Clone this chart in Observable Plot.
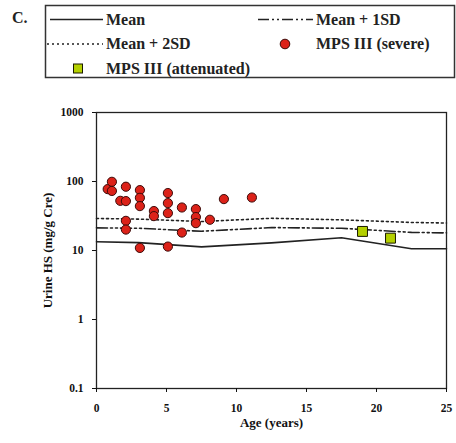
<!DOCTYPE html>
<html>
<head>
<meta charset="utf-8">
<script src="https://cdn.jsdelivr.net/npm/d3@7"></script>
<script src="https://cdn.jsdelivr.net/npm/@observablehq/plot@0.6"></script>
<style>
  html, body { margin: 0; padding: 0; background: #fff; }
  #page { position: relative; width: 456px; height: 443px; overflow: hidden; font-family: "Liberation Serif", "DejaVu Serif", serif; }
  #legend { position: absolute; left: 0; top: 0; }
  #chart { position: absolute; left: 0; top: 90px; }
</style>
</head>
<body>
<div id="page">
  <div id="chart"></div>
  <svg id="legend" width="456" height="90"></svg>
</div>
<script>
// ---- Data ----
const severeAge = [0.8, 1.1, 1.1, 2.1, 1.7, 2.1, 2.1, 2.1, 3.1, 3.1, 3.1, 3.1, 4.1, 4.1, 5.1, 5.1, 5.1, 5.1, 6.1, 6.1, 7.1, 7.1, 7.1, 8.1, 9.1, 11.1];
const severeHS  = [77.6, 99, 73, 84, 52.5, 52, 26.9, 20.1, 75, 58, 44, 10.9, 37.3, 31.5, 68, 48.6, 34.8, 11.4, 42, 18.2, 39.8, 30.5, 24.9, 27.9, 55.6, 58.6];
const attenAge  = [19, 21];
const attenHS   = [18.9, 15.1];
const refAge    = [0, 3, 7.5, 12.5, 17.5, 22.5, 25];
const meanHS    = [13.4, 13.0, 11.3, 12.9, 15.3, 10.6, 10.6];
const plus1SD   = [21.3, 21.0, 19.0, 21.5, 21.0, 18.3, 18.0];
const plus2SD   = [29.1, 28.5, 26.3, 29.3, 27.8, 25.5, 25.0];
const xTicks    = [0, 5, 10, 15, 20, 25];
const yTicks    = [0.1, 1, 10, 100, 1000];
const yTickLabels = ["0.1", "1", "10", "100", "1000"];
const legendLabels = ["Mean", "Mean + 1SD", "Mean + 2SD", "MPS III (severe)", "MPS III (attenuated)"];
const panelLabel = "C.";
const xTitle = "Age (years)";
const yTitle = "Urine HS (mg/g Cre)";

// ---- Styles ----
const redFill = "#dc2219", redStroke = "#3b0a08";
const greenFill = "#b4d000", greenStroke = "#1a1a00";
const dashDot = "11,3,2,3,2,3";
const dotted = "2,3";

const refRows = refAge.map((a, i) => ({age: a, mean: meanHS[i], sd1: plus1SD[i], sd2: plus2SD[i]}));
const severe = severeAge.map((a, i) => ({age: a, hs: severeHS[i]}));
const atten = attenAge.map((a, i) => ({age: a, hs: attenHS[i]}));

const chart = Plot.plot({
  width: 456,
  height: 353,
  marginTop: 22,
  marginBottom: 55,
  marginLeft: 96,
  marginRight: 10,
  style: {fontFamily: "'Liberation Serif', serif", fontWeight: "bold", fontSize: "11.5px", color: "#111", background: "white"},
  x: {domain: [0, 25]},
  y: {type: "log", domain: [0.1, 1000]},
  marks: [
    Plot.frame({stroke: "#222", strokeWidth: 1.3}),
    Plot.axisX({ticks: xTicks, tickSize: 4, tickPadding: 11, label: null, fontSize: 11.5, fontWeight: "bold"}),
    Plot.axisY({ticks: yTicks, tickSize: 4, tickPadding: 9, label: null, fontSize: 11.5, fontWeight: "bold",
      tickFormat: d => yTickLabels[yTicks.indexOf(d)]}),
    Plot.text([xTitle], {frameAnchor: "bottom", dy: 38.5, fontSize: 13, fontWeight: "bold", textAnchor: "middle"}),
    Plot.text([yTitle], {frameAnchor: "left", dx: -49, rotate: -90, fontSize: 13, fontWeight: "bold", textAnchor: "middle"}),
    Plot.line(refRows, {x: "age", y: "sd2", stroke: "#222", strokeWidth: 1.6, strokeDasharray: dotted}),
    Plot.line(refRows, {x: "age", y: "sd1", stroke: "#222", strokeWidth: 1.6, strokeDasharray: dashDot}),
    Plot.line(refRows, {x: "age", y: "mean", stroke: "#222", strokeWidth: 1.6}),
    Plot.dot(severe, {x: "age", y: "hs", r: 4.6, fill: redFill, stroke: redStroke, strokeWidth: 1}),
    Plot.dot(atten, {x: "age", y: "hs", r: 5.6, symbol: "square", fill: greenFill, stroke: greenStroke, strokeWidth: 1})
  ]
});
document.getElementById("chart").appendChild(chart);

// ---- Legend ----
const lg = d3.select("#legend");
const font = "'Liberation Serif', serif";
lg.append("text").attr("x", 12).attr("y", 23).attr("font-family", font).attr("font-weight", "bold")
  .attr("font-size", 16).attr("fill", "#222").text(panelLabel);
lg.append("rect").attr("x", 45.5).attr("y", 5.5).attr("width", 409).attr("height", 72)
  .attr("fill", "none").attr("stroke", "#333").attr("stroke-width", 1.5);
const items = [
  {kind: "line", dash: null, x1: 50, x2: 103, y: 19.5, tx: 106, ty: 24.5},
  {kind: "line", dash: dashDot, x1: 258, x2: 313, y: 19.5, tx: 316, ty: 24.5},
  {kind: "line", dash: dotted, x1: 47, x2: 103, y: 44, tx: 106, ty: 49},
  {kind: "circle", cx: 285, y: 44, tx: 316, ty: 49},
  {kind: "square", cx: 78, y: 68.5, tx: 106, ty: 73.5}
];
items.forEach((it, i) => {
  if (it.kind === "line") {
    const l = lg.append("line").attr("x1", it.x1).attr("x2", it.x2).attr("y1", it.y).attr("y2", it.y)
      .attr("stroke", "#222").attr("stroke-width", 1.6);
    if (it.dash) l.attr("stroke-dasharray", it.dash);
  } else if (it.kind === "circle") {
    lg.append("circle").attr("cx", it.cx).attr("cy", it.y).attr("r", 4.8)
      .attr("fill", redFill).attr("stroke", redStroke).attr("stroke-width", 1);
  } else {
    lg.append("rect").attr("x", it.cx - 4.5).attr("y", it.y - 4.5).attr("width", 9).attr("height", 9)
      .attr("fill", greenFill).attr("stroke", greenStroke).attr("stroke-width", 1);
  }
  lg.append("text").attr("x", it.tx).attr("y", it.ty).attr("font-family", font).attr("font-weight", "bold")
    .attr("font-size", 16).attr("fill", "#222").text(legendLabels[i]);
});
</script>
</body>
</html>
